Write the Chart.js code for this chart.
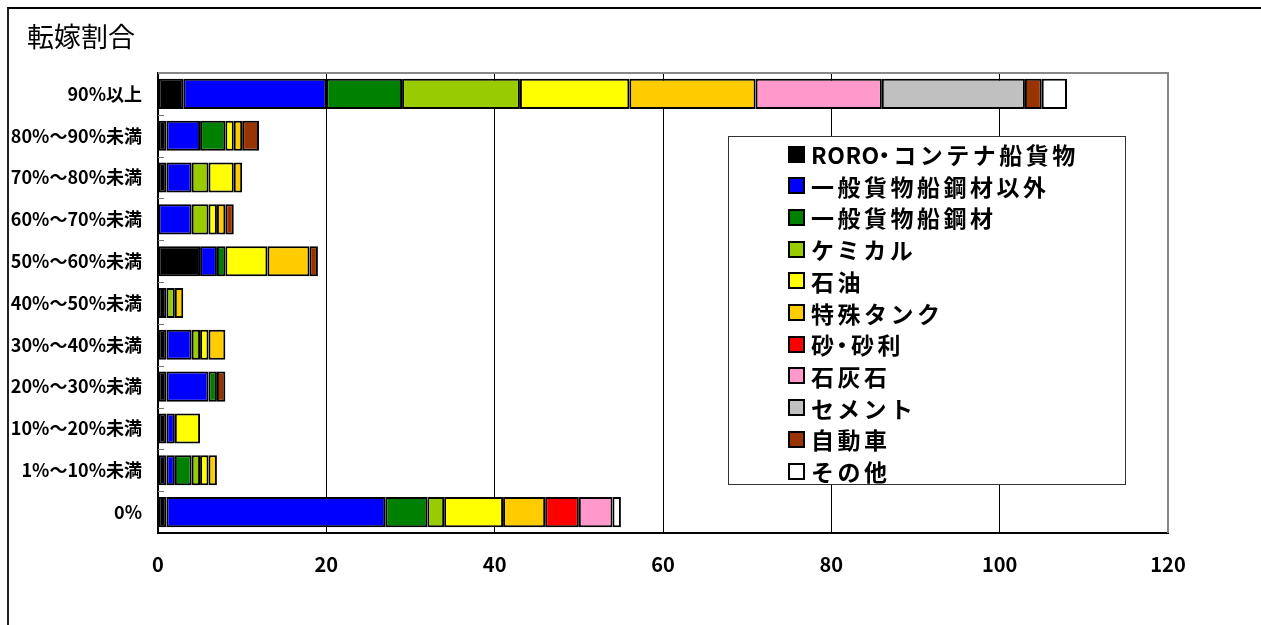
<!DOCTYPE html>
<html>
<head>
<meta charset="utf-8">
<script src="https://cdn.jsdelivr.net/npm/chart.js@4/dist/chart.umd.min.js"></script>
<style>
  html, body { margin: 0; padding: 0; background: #fff; }
  #wrap { position: relative; width: 1261px; height: 625px; overflow: hidden; }
  #frame { position: absolute; left: 7px; top: 7px; width: 1270px; height: 640px;
           border-top: 2px solid #000; border-left: 2px solid #222; box-sizing: border-box; }
  #title { position: absolute; left: 27px; top: 21px; font-family: "Noto Sans CJK JP", sans-serif;
           font-size: 27px; line-height: 30px; color: #000; }
  canvas { position: absolute; left: 0; top: 0; }
  #legend { position: absolute; left: 728px; top: 136px; width: 398px; height: 349px;
            border: 1px solid #333; background: #fff; box-sizing: border-box; padding-top: 1px; }
  .item { position: absolute; left: 59px; height: 30px; display: flex; align-items: center;
          font-family: "Noto Sans CJK JP", sans-serif; font-weight: bold; font-size: 23px;
          letter-spacing: 3.5px; color: #000; white-space: nowrap; }
  .lat { letter-spacing: 0.5px; }
  .dot { display: inline-block; margin: 0 -6px 0 -7px; }
  .sw { width: 13px; height: 13px; border: 2px solid #000; margin-right: 6px; flex: none; }
</style>
</head>
<body>
<div id="wrap">
  <div id="frame"></div>
  <canvas id="c" width="1261" height="625"></canvas>
  <div id="title">転嫁割合</div>
  <div id="legend"></div>
</div>
<script>
// ---- data ----
const categories = ["90%以上", "80%～90%未満", "70%～80%未満", "60%～70%未満", "50%～60%未満",
  "40%～50%未満", "30%～40%未満", "20%～30%未満", "10%～20%未満", "1%～10%未満", "0%"];
const seriesNames = ["RORO・コンテナ船貨物", "一般貨物船鋼材以外", "一般貨物船鋼材", "ケミカル", "石油",
  "特殊タンク", "砂・砂利", "石灰石", "セメント", "自動車", "その他"];
const roro     = [3, 1, 1, 0, 5, 1, 1, 1, 1, 1, 1];
const general  = [17, 4, 3, 4, 2, 0, 3, 5, 1, 1, 26];
const steel    = [9, 3, 0, 0, 1, 0, 0, 1, 0, 2, 5];
const chemical = [14, 0, 2, 2, 0, 1, 1, 0, 0, 1, 2];
const oil      = [13, 1, 3, 1, 5, 0, 1, 0, 3, 1, 7];
const tank     = [15, 1, 1, 1, 5, 1, 2, 0, 0, 1, 5];
const sand     = [0, 0, 0, 0, 0, 0, 0, 0, 0, 0, 4];
const limestone= [15, 0, 0, 0, 0, 0, 0, 0, 0, 0, 4];
const cement   = [17, 0, 0, 0, 0, 0, 0, 0, 0, 0, 0];
const auto     = [2, 2, 0, 1, 1, 0, 0, 1, 0, 0, 0];
const other    = [3, 0, 0, 0, 0, 0, 0, 0, 0, 0, 1];
const xTicks   = [0, 20, 40, 60, 80, 100, 120];

const seriesValues = [roro, general, steel, chemical, oil, tank, sand, limestone, cement, auto, other];
const colors = ["#000000", "#0000FF", "#008000", "#99CC00", "#FFFF00", "#FFCC00",
  "#FF0000", "#FF99CC", "#C0C0C0", "#993300", "#FFFFFF"];

const datasets = seriesNames.map((n, i) => ({
  label: n,
  data: seriesValues[i],
  backgroundColor: colors[i],
  borderColor: "#000",
  borderWidth: 2,
  borderSkipped: false,
  barPercentage: 0.72,
  categoryPercentage: 1.0
}));

const frame = {
  id: "frame",
  afterDraw(chart) {
    const { ctx, chartArea: a } = chart;
    ctx.save();
    ctx.strokeStyle = "#888";
    ctx.lineWidth = 2;
    ctx.beginPath();
    ctx.moveTo(a.left, a.top);
    ctx.lineTo(a.right, a.top);
    ctx.lineTo(a.right, a.bottom);
    ctx.stroke();
    ctx.strokeStyle = "#777";
    ctx.lineWidth = 1;
    const step = (a.bottom - a.top) / categories.length;
    for (let i = 1; i < categories.length; i++) {
      const yy = Math.round(a.top + i * step) + 0.5;
      ctx.beginPath();
      ctx.moveTo(a.left, yy);
      ctx.lineTo(a.left + 6, yy);
      ctx.stroke();
    }
    ctx.restore();
  }
};

const chart = new Chart(document.getElementById("c"), {
  type: "bar",
  data: { labels: categories, datasets },
  options: {
    indexAxis: "y",
    responsive: false,
    animation: false,
    layout: { padding: { left: 0, top: 73, right: 93, bottom: 0 } },
    plugins: { legend: { display: false }, title: { display: false }, tooltip: { enabled: false } },
    scales: {
      x: {
        stacked: true,
        min: 0, max: 120,
        afterBuildTicks(s) { s.ticks = xTicks.map(v => ({ value: v })); },
        afterFit(s) { s.height = 92; },
        grid: {
          drawTicks: false,
          color: ctx => (ctx.tick && (ctx.tick.value === 0 || ctx.tick.value === 120)) ? "rgba(0,0,0,0)" : "#000",
          lineWidth: 1
        },
        border: { display: true, color: "#000", width: 2 },
        ticks: {
          padding: 19,
          color: "#000",
          font: { family: "'Noto Sans CJK JP', sans-serif", size: 20, weight: "bold" }
        }
      },
      y: {
        stacked: true,
        afterFit(s) { s.width = 158; },
        grid: { display: false, drawTicks: false },
        border: { display: true, color: "#000", width: 2 },
        ticks: {
          padding: 16,
          color: "#000",
          font: { family: "'Noto Sans CJK JP', sans-serif", size: 18, weight: "bold" }
        }
      }
    }
  },
  plugins: [frame]
});

// HTML legend built from the chart's datasets
const lg = document.getElementById("legend");
chart.data.datasets.forEach((d, i) => {
  const it = document.createElement("div");
  it.className = "item";
  it.style.top = (2 + i * 31.7) + "px";
  const sw = document.createElement("span");
  sw.className = "sw";
  sw.style.background = d.backgroundColor;
  it.appendChild(sw);
  const tx = document.createElement("span");
  // split into runs: ASCII letters compact, middle dot narrow
  const parts = d.label.match(/[A-Za-z]+|・|[^A-Za-z・]+/g);
  parts.forEach(p => {
    const s = document.createElement("span");
    if (/^[A-Za-z]+$/.test(p)) s.className = "lat";
    else if (p === "・") s.className = "dot";
    s.textContent = p;
    tx.appendChild(s);
  });
  it.appendChild(tx);
  lg.appendChild(it);
});
</script>
</body>
</html>
